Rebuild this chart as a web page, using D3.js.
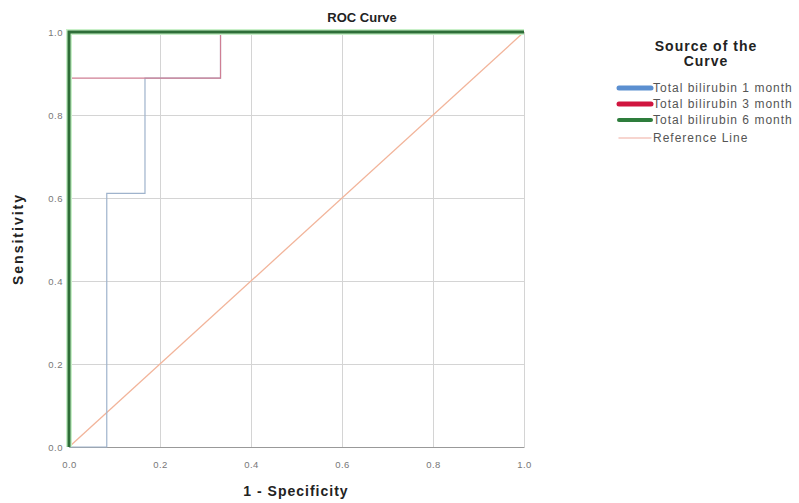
<!DOCTYPE html>
<html>
<head>
<meta charset="utf-8">
<script src="https://cdn.jsdelivr.net/npm/d3@7"></script>
<style>
  body { margin: 0; background: #fff; }
  svg { font-family: Arial, "Liberation Sans", sans-serif; }
</style>
</head>
<body>
<svg id="chart" width="799" height="503"></svg>
<script>
// ROC curve data (1 - specificity, sensitivity)
const seriesNames = ['Total bilirubin 1 month', 'Total bilirubin 3 month', 'Total bilirubin 6 month', 'Reference Line'];
const blueFpr = [0, 0.083, 0.083, 0.167, 0.167, 0.333, 0.333, 1];
const blueTpr = [0, 0, 0.611, 0.611, 0.889, 0.889, 1, 1];
const redFpr = [0, 0, 0.333, 0.333, 1];
const redTpr = [0, 0.889, 0.889, 1, 1];
const greenFpr = [0, 0, 1];
const greenTpr = [0, 1, 1];
const refFpr = [0, 1];
const refTpr = [0, 1];
const tickValues = [0, 0.2, 0.4, 0.6, 0.8, 1.0];

const svg = d3.select('#chart');
const plot = { left: 69, top: 32, right: 524, bottom: 447 };

const x = d3.scaleLinear().domain([0, 1]).range([plot.left, plot.right]);
const y = d3.scaleLinear().domain([0, 1]).range([plot.bottom, plot.top]);

// gridlines
svg.append('g')
    .attr('transform', `translate(0,${plot.bottom})`)
    .call(d3.axisBottom(x).tickValues(tickValues).tickSize(-(plot.bottom - plot.top)).tickFormat(''))
    .call(g => g.select('.domain').remove())
    .call(g => g.selectAll('line').attr('stroke', '#d4d4d4'));

svg.append('g')
    .attr('transform', `translate(${plot.left},0)`)
    .call(d3.axisLeft(y).tickValues(tickValues).tickSize(-(plot.right - plot.left)).tickFormat(''))
    .call(g => g.select('.domain').remove())
    .call(g => g.selectAll('line').attr('stroke', '#d4d4d4'));

// axes
svg.append('g')
    .attr('transform', `translate(0,${plot.bottom})`)
    .call(d3.axisBottom(x).tickValues(tickValues).tickSize(0).tickPadding(14).tickFormat(d3.format('.1f')))
    .call(g => g.select('.domain').attr('stroke', '#999'))
    .call(g => g.selectAll('text').attr('fill', '#777').style('font-size', '9.5px').style('letter-spacing', '0.5px'));

svg.append('g')
    .attr('transform', `translate(${plot.left},0)`)
    .call(d3.axisLeft(y).tickValues(tickValues).tickSize(0).tickPadding(6).tickFormat(d3.format('.1f')))
    .call(g => g.select('.domain').attr('stroke', '#999'))
    .call(g => g.selectAll('text').attr('fill', '#777').style('font-size', '9.5px').style('letter-spacing', '0.5px'));

// curves
const line = d3.line().x(d => x(d[0])).y(d => y(d[1]));
const curves = [
    { fpr: refFpr, tpr: refTpr, color: '#f2b49a', width: 1.3 },
    { fpr: blueFpr, tpr: blueTpr, color: '#9fb3cc', width: 1.2 },
    { fpr: redFpr, tpr: redTpr, color: '#cf7f94', width: 1.2 },
    { fpr: greenFpr, tpr: greenTpr, color: '#c8f0c8', width: 6 },
    { fpr: greenFpr, tpr: greenTpr, color: '#2e6e38', width: 3 }
];
curves.forEach(c => {
    svg.append('path')
        .datum(c.fpr.map((v, i) => [v, c.tpr[i]]))
        .attr('fill', 'none')
        .attr('stroke', c.color)
        .attr('stroke-width', c.width)
        .attr('d', line);
});

// titles
svg.append('text').attr('x', 362).attr('y', 22).attr('text-anchor', 'middle')
    .style('font-size', '13px').style('font-weight', 'bold').attr('fill', '#222').text('ROC Curve');
svg.append('text').attr('x', 296).attr('y', 496).attr('text-anchor', 'middle')
    .style('font-size', '14px').style('font-weight', 'bold').style('letter-spacing', '1px')
    .attr('fill', '#222').text('1 - Specificity');
svg.append('text').attr('transform', 'translate(23,239) rotate(-90)').attr('text-anchor', 'middle')
    .style('font-size', '14px').style('font-weight', 'bold').style('letter-spacing', '2px')
    .attr('fill', '#222').text('Sensitivity');

// legend
const legend = svg.append('g');
legend.append('text').attr('x', 706).attr('y', 51).attr('text-anchor', 'middle')
    .style('font-size', '14px').style('font-weight', 'bold').style('letter-spacing', '1px')
    .attr('fill', '#222').text('Source of the');
legend.append('text').attr('x', 706).attr('y', 66).attr('text-anchor', 'middle')
    .style('font-size', '14px').style('font-weight', 'bold').style('letter-spacing', '1px')
    .attr('fill', '#222').text('Curve');

const legendColors = ['#5b8fd0', '#d0153f', '#2e7d3c', '#f5c8c0'];
const legendWidths = [5, 5, 4, 1.5];
const legendRows = [88, 104, 120, 138];
seriesNames.forEach((name, i) => {
    legend.append('line')
        .attr('x1', 619).attr('x2', 651)
        .attr('y1', legendRows[i]).attr('y2', legendRows[i])
        .attr('stroke', legendColors[i])
        .attr('stroke-width', legendWidths[i])
        .attr('stroke-linecap', 'round');
    legend.append('text')
        .attr('x', 653).attr('y', legendRows[i] + 4)
        .style('font-size', '12px').style('letter-spacing', '1px').attr('fill', '#555')
        .text(name);
});
</script>
</body>
</html>
